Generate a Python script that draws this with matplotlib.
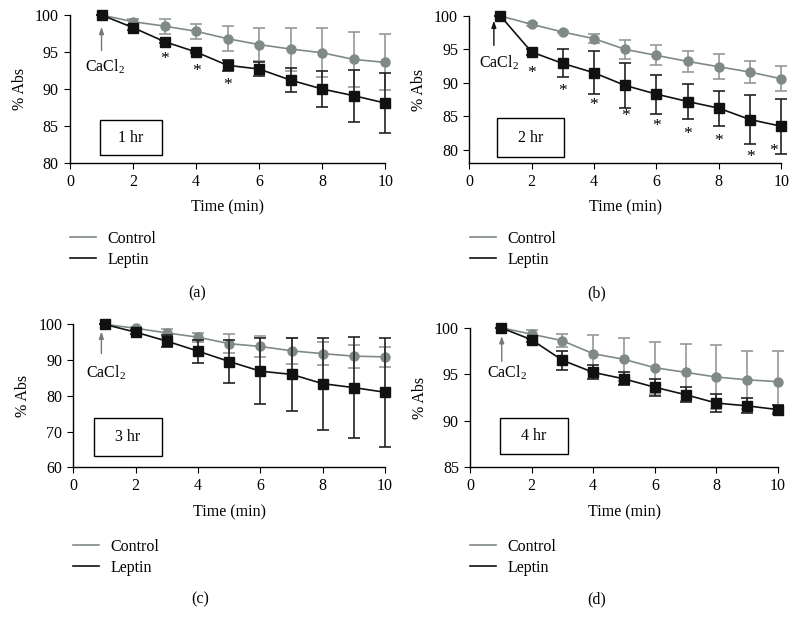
import matplotlib.pyplot as plt
from matplotlib.lines import Line2D
from matplotlib.patches import Rectangle

plt.rcParams['font.family'] = ['Liberation Serif', 'DejaVu Serif']
plt.rcParams['mathtext.default'] = 'regular'
plt.rcParams['font.size'] = 11.5

# Time points (min)
time = [1, 2, 3, 4, 5, 6, 7, 8, 9, 10]

# Panel (a) - 1 hr
a_ctrl = [100, 99.1, 98.5, 97.8, 96.8, 96.0, 95.4, 94.9, 94.0, 93.6]
a_ctrl_err = [0, 0.4, 1.0, 1.0, 1.7, 2.2, 2.9, 3.3, 3.7, 3.8]
a_lep = [100, 98.3, 96.4, 95.0, 93.2, 92.7, 91.2, 90.0, 89.1, 88.1]
a_lep_err = [0, 0.3, 0.2, 0.2, 0.7, 0.9, 1.6, 2.5, 3.5, 4.0]
a_star_x = [3, 4, 5]
a_star_y = [94.0, 92.5, 90.5]

# Panel (b) - 2 hr
b_ctrl = [100, 98.75, 97.6, 96.6, 95.0, 94.1, 93.2, 92.4, 91.6, 90.6]
b_ctrl_err = [0, 0.2, 0.2, 0.7, 1.4, 1.5, 1.6, 1.9, 1.7, 1.9]
b_lep = [100, 94.6, 92.9, 91.5, 89.6, 88.3, 87.2, 86.2, 84.5, 83.5]
b_lep_err = [0, 0.5, 2.1, 3.2, 3.3, 2.9, 2.6, 2.6, 3.6, 4.1]
b_star_x = [2, 3, 4, 5, 6, 7, 8, 9, 9.75]
b_star_y = [91.4, 88.8, 86.7, 85.1, 83.6, 82.3, 81.3, 78.9, 79.8]

# Panel (c) - 3 hr
c_ctrl = [100, 98.9, 97.6, 96.4, 94.6, 93.8, 92.6, 91.8, 91.1, 90.9]
c_ctrl_err = [0, 0.3, 1.2, 1.3, 2.6, 2.8, 3.6, 3.3, 3.2, 2.8]
c_lep = [100, 97.8, 95.3, 92.5, 89.6, 86.9, 86.0, 83.4, 82.3, 81.0]
c_lep_err = [0, 0.6, 1.6, 3.2, 5.9, 9.2, 10.2, 12.9, 14.1, 15.3]

# Panel (d) - 4 hr
d_ctrl = [100, 99.3, 98.6, 97.2, 96.6, 95.7, 95.2, 94.7, 94.4, 94.2]
d_ctrl_err = [0, 0.5, 0.7, 2.0, 2.3, 2.8, 3.1, 3.4, 3.1, 3.3]
d_lep = [100, 98.7, 96.5, 95.2, 94.5, 93.6, 92.8, 91.9, 91.6, 91.2]
d_lep_err = [0, 0.2, 1.0, 0.75, 0.7, 0.9, 0.8, 1.0, 0.8, 0.5]

ctrl_color = '#7f8a87'
lep_color = '#111111'


def draw_panel(ax, ctrl, ctrl_err, lep, lep_err, ylim, yticks, box, box_label,
               arrow_x, arrow_y, cacl_xy, arrow_color, stars_x=None, stars_y=None):
    c = ax.errorbar(time, ctrl, yerr=ctrl_err, color=ctrl_color, ecolor='#929a98',
                    marker='o', markersize=6.5, linewidth=1.2, elinewidth=1.2,
                    capsize=4, capthick=1.2, zorder=2)
    l = ax.errorbar(time, lep, yerr=lep_err, color=lep_color, ecolor='#222222',
                    marker='s', markersize=6.5, linewidth=1.2, elinewidth=1.2,
                    capsize=4, capthick=1.2, zorder=3)
    # let markers and caps at the edges show in full
    for cont in (c, l):
        for art in cont.get_children():
            art.set_clip_on(False)

    ax.set_xlim(0, 10)
    ax.set_ylim(*ylim)
    ax.set_xticks([0, 2, 4, 6, 8, 10])
    ax.set_yticks(yticks)
    ax.spines['top'].set_visible(False)
    ax.spines['right'].set_visible(False)
    ax.tick_params(direction='out', length=4, pad=4, labelsize=11.5)
    for sp in ['left', 'bottom']:
        ax.spines[sp].set_linewidth(1.0)
    ax.set_xlabel('Time (min)', fontsize=11.5, labelpad=7)
    ax.set_ylabel('% Abs', fontsize=11.5, labelpad=5)

    # label box
    x0, y0, x1, y1 = box
    ax.add_patch(Rectangle((x0, y0), x1 - x0, y1 - y0, transform=ax.transAxes,
                           fill=False, edgecolor='black', linewidth=1.0, clip_on=False))
    ax.text((x0 + x1) / 2, (y0 + y1) / 2, box_label, transform=ax.transAxes,
            ha='center', va='center', fontsize=11.5)

    # CaCl2 arrow
    ax.annotate('', xy=(arrow_x, arrow_y[1]), xytext=(arrow_x, arrow_y[0]),
                arrowprops=dict(arrowstyle='-|>,head_length=0.35,head_width=0.12',
                                color=arrow_color, lw=1.0, shrinkA=0, shrinkB=0))
    ax.text(cacl_xy[0], cacl_xy[1], r'CaCl$_2$', ha='center', va='center',
            fontsize=11.5, bbox=dict(fc='white', ec='none', pad=0.5))

    if stars_x is not None:
        for sx, sy in zip(stars_x, stars_y):
            ax.text(sx, sy, '*', ha='center', va='center', fontsize=12.5)


fig = plt.figure(figsize=(7.98, 6.31), dpi=100)

ax_a = fig.add_axes([0.0877, 0.7417, 0.395, 0.2345])
ax_b = fig.add_axes([0.588, 0.7417, 0.391, 0.233])
ax_c = fig.add_axes([0.0919, 0.2594, 0.3906, 0.2266])
ax_d = fig.add_axes([0.589, 0.2594, 0.386, 0.2213])

draw_panel(ax_a, a_ctrl, a_ctrl_err, a_lep, a_lep_err, (80, 100), [80, 85, 90, 95, 100],
           (0.095, 0.054, 0.292, 0.29), '1 hr', 1.0, (95.2, 98.4), (1.1, 93.0),
           '#777777', a_star_x, a_star_y)
draw_panel(ax_b, b_ctrl, b_ctrl_err, b_lep, b_lep_err, (78, 100), [80, 85, 90, 95, 100],
           (0.09, 0.04, 0.304, 0.306), '2 hr', 0.79, (95.6, 99.3), (0.95, 93.0),
           '#111111', b_star_x, b_star_y)
draw_panel(ax_c, c_ctrl, c_ctrl_err, c_lep, c_lep_err, (60, 100), [60, 70, 80, 90, 100],
           (0.066, 0.079, 0.284, 0.345), '3 hr', 0.9, (91.8, 98.0), (1.05, 86.5),
           '#777777')
draw_panel(ax_d, d_ctrl, d_ctrl_err, d_lep, d_lep_err, (85, 100), [85, 90, 95, 100],
           (0.097, 0.095, 0.318, 0.353), '4 hr', 1.03, (96.4, 99.1), (1.2, 95.2),
           '#777777')

# Legends and panel letters
handles = [Line2D([], [], color=ctrl_color, lw=1.2), Line2D([], [], color=lep_color, lw=1.2)]
for lx, ly in [(70, 231), (470, 231), (73, 539), (470, 539)]:
    fig.legend(handles, ['Control', 'Leptin'], loc='upper left',
               bbox_to_anchor=(lx / 798, 1 - ly / 631), frameon=False,
               fontsize=11.5, handlelength=1.6, handletextpad=0.75,
               labelspacing=0.3, borderpad=0, borderaxespad=0)

for letter, lx, ly in [('(a)', 197, 293), ('(b)', 597, 293), ('(c)', 200, 599), ('(d)', 597, 599)]:
    fig.text(lx / 798, 1 - ly / 631, letter, ha='center', va='center', fontsize=11.5)

fig.savefig('out.png', dpi=100)
